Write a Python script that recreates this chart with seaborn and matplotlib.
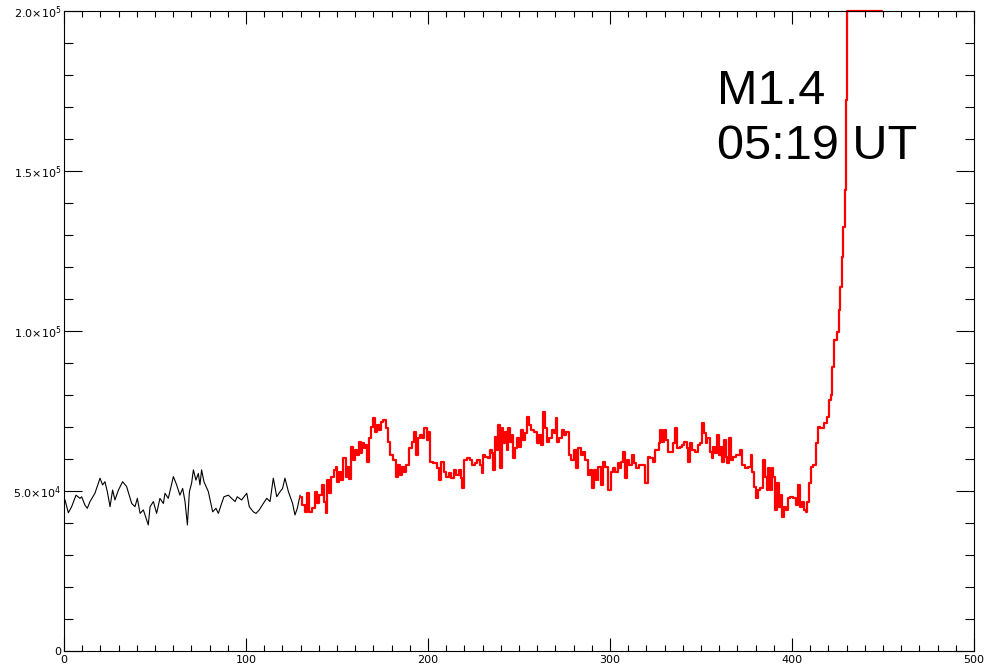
import matplotlib
matplotlib.use("Agg")
import matplotlib.pyplot as plt
import seaborn as sns
import pandas as pd
from matplotlib.ticker import MultipleLocator, FixedLocator, FixedFormatter

# Pre-flare light curve (black) and flare-window light curve (red), counts in thousands
black_x = [0.55, 2.4, 4.2, 6.6, 8.8, 9.7, 11.5, 12.8, 14.3, 17.0, 19.8, 21.2, 22.5, 23.8,
           25.3, 26.7, 28.0, 29.9, 32.2, 34.4, 37.2, 39.0, 40.3, 41.8, 43.6, 46.3, 47.3,
           49.1, 50.9, 52.7, 54.6, 55.5, 57.3, 60.1, 61.9, 63.7, 65.2, 66.5, 67.8, 68.9,
           70.1, 71.1, 72.5, 73.8, 74.7, 75.6, 76.9, 79.3, 81.7, 83.5, 84.8, 86.6, 87.9,
           90.3, 92.1, 94.0, 95.2, 97.6, 100.4, 101.8, 104.0, 105.5, 107.3, 109.5, 111.4,
           113.2, 115.0, 116.9, 118.7, 120.1, 121.4, 123.3, 125.6, 126.9, 128.2, 129.7]
black_kcounts = [47.2, 43.2, 45.1, 48.7, 47.7, 48.2, 45.6, 44.6, 46.7, 49.3, 54.0, 51.9, 52.9,
                 49.8, 45.1, 50.3, 47.2, 50.3, 52.9, 51.4, 46.1, 45.1, 47.7, 43.0, 44.1, 39.4,
                 45.1, 46.7, 43.0, 47.7, 46.1, 49.3, 47.7, 54.5, 51.9, 48.7, 50.8, 46.7, 39.4,
                 49.8, 52.4, 56.6, 53.4, 55.5, 51.9, 56.6, 52.9, 49.8, 43.5, 44.6, 43.0, 46.1,
                 48.2, 48.7, 47.7, 46.7, 48.2, 47.2, 49.3, 45.1, 43.5, 43.0, 44.1, 46.1, 47.7,
                 46.7, 54.0, 48.2, 49.8, 50.8, 54.0, 49.8, 46.1, 42.5, 44.6, 48.7]

red_x = [129.6, 131.5, 133.3, 134.2, 135.1, 137.0, 138.3, 139.7, 140.6, 142.5, 143.4, 144.3,
         145.2, 146.1, 147.4, 148.9, 149.8, 150.7, 151.6, 152.5, 154.4, 155.3, 156.2, 157.1,
         158.4, 159.5, 160.8, 161.7, 162.6, 163.5, 164.4, 165.4, 166.3, 167.2, 168.1, 169.4,
         170.3, 171.2, 172.3, 173.6, 174.9, 176.0, 177.3, 178.2, 180.0, 181.5, 182.8, 183.7,
         185.1, 185.9, 187.3, 188.8, 190.1, 191.9, 192.8, 193.7, 195.0, 196.1, 197.4, 198.7,
         199.8, 200.7, 202.0, 203.8, 205.7, 206.6, 207.9, 209.3, 210.8, 212.1, 213.3, 214.8,
         216.1, 217.6, 218.5, 219.4, 220.3, 222.2, 224.0, 224.9, 226.5, 227.7, 229.0, 230.1,
         230.8, 232.3, 233.7, 234.6, 235.5, 236.3, 237.2, 238.1, 239.2, 239.9, 240.9, 241.8,
         242.7, 243.6, 244.5, 245.4, 246.4, 247.3, 248.4, 249.7, 250.6, 251.5, 252.8, 253.9,
         255.0, 256.1, 257.5, 259.4, 260.6, 261.6, 262.7, 263.8, 264.9, 266.1, 267.4, 268.5,
         269.8, 270.7, 271.6, 272.9, 274.0, 275.3, 276.6, 278.0, 279.5, 280.8, 282.1, 283.2,
         284.4, 285.7, 287.2, 288.7, 289.6, 290.5, 291.8, 293.1, 294.2, 295.4, 296.7, 298.2,
         299.7, 300.9, 302.2, 303.7, 304.6, 305.5, 306.8, 307.9, 308.8, 310.0, 311.0, 312.8,
         313.7, 315.2, 316.4, 318.8, 320.1, 321.4, 322.9, 324.3, 325.6, 326.5, 327.4, 328.0,
         329.3, 330.2, 331.1, 332.4, 333.8, 335.3, 336.6, 337.5, 339.0, 340.3, 341.5, 342.6,
         343.4, 344.5, 345.7, 347.6, 348.9, 350.3, 351.2, 352.2, 353.1, 354.0, 355.5, 356.2,
         357.3, 358.6, 359.5, 360.4, 361.3, 362.2, 363.1, 364.1, 365.0, 365.9, 366.8, 368.3,
         370.5, 371.9, 373.2, 375.0, 376.9, 377.8, 378.7, 379.6, 380.5, 381.8, 383.3, 384.8,
         385.5, 386.6, 387.3, 388.4, 389.3, 390.3, 391.5, 392.4, 393.4, 394.3, 395.2, 396.1,
         397.4, 398.3, 399.8, 401.6, 403.1, 403.8, 404.7, 405.8, 407.1, 408.0, 408.9, 409.9,
         410.8, 412.6, 413.6, 414.5, 416.3, 418.7, 420.0, 420.9, 421.8, 422.7, 423.6, 425.5,
         426.0, 426.7, 427.8, 428.6, 429.1, 429.7, 430.4, 449.3]
red_kcounts = [48.2, 45.6, 43.5, 49.3, 43.5, 44.6, 49.8, 46.1, 48.7, 51.9, 46.7, 43.0,
               53.4, 49.3, 54.5, 56.6, 57.6, 52.9, 56.0, 53.4, 60.2, 54.5, 57.6, 53.9,
               63.9, 59.7, 62.8, 61.3, 65.4, 61.8, 64.9, 63.3, 64.4, 59.2, 66.5, 70.1,
               72.7, 68.5, 70.6, 69.1, 71.7, 72.2, 69.6, 65.4, 61.3, 59.7, 54.5, 58.1,
               55.0, 57.6, 56.0, 58.1, 63.3, 65.4, 68.5, 61.3, 66.5, 67.5, 66.5, 69.6,
               65.9, 68.5, 59.2, 58.6, 57.1, 53.4, 59.2, 56.0, 54.5, 55.5, 54.0, 56.6,
               55.0, 56.6, 54.0, 50.8, 59.7, 60.2, 59.7, 58.1, 58.6, 59.7, 58.1, 55.5,
               61.3, 60.7, 60.2, 62.8, 61.8, 56.6, 67.0, 62.8, 70.6, 57.1, 69.6, 64.9,
               68.5, 62.8, 69.6, 65.4, 67.5, 60.2, 63.3, 66.5, 63.9, 69.1, 65.9, 68.0,
               73.2, 70.6, 69.1, 68.5, 64.9, 67.5, 64.4, 74.8, 69.6, 65.4, 66.5, 69.1,
               68.0, 72.7, 65.4, 66.5, 69.1, 67.5, 68.5, 61.3, 59.7, 62.8, 57.1, 63.3,
               61.3, 62.3, 59.7, 55.0, 56.6, 50.8, 56.6, 53.4, 57.6, 51.9, 59.2, 57.6,
               50.3, 56.0, 57.1, 56.0, 58.6, 57.1, 59.2, 62.3, 54.0, 59.7, 58.1, 61.3,
               58.6, 57.1, 58.1, 58.1, 52.4, 60.7, 60.2, 59.2, 62.8, 62.8, 64.9, 69.1,
               65.4, 69.1, 65.9, 62.3, 62.3, 64.9, 69.6, 63.3, 63.9, 64.4, 65.4, 63.3,
               59.2, 64.9, 62.8, 62.3, 64.4, 64.9, 71.1, 68.0, 64.9, 66.5, 62.3, 60.2,
               63.9, 61.8, 67.5, 61.3, 63.9, 59.2, 65.9, 60.7, 58.6, 66.5, 59.7, 60.7,
               61.3, 62.8, 58.1, 57.1, 57.6, 61.3, 56.0, 51.4, 47.7, 50.3, 50.8, 59.7,
               54.5, 50.3, 57.1, 50.3, 57.1, 54.5, 44.1, 52.4, 45.1, 48.7, 42.0, 45.1,
               44.1, 47.7, 48.2, 47.7, 45.6, 51.9, 45.1, 46.7, 44.0, 43.5, 46.7, 52.4,
               57.6, 58.1, 64.9, 70.1, 69.6, 71.1, 73.2, 78.4, 80.0, 88.8, 97.1, 99.8,
               106.5, 113.8, 123.2, 132.6, 144.0, 172.2, 200.0, 200.0]

y_ticks = [0, 50000, 100000, 150000, 200000]
y_tick_labels = ["0", "5.0×10$^4$", "1.0×10$^5$", "1.5×10$^5$", "2.0×10$^5$"]
x_ticks = [0, 100, 200, 300, 400, 500]
annotation = "M1.4\n05:19 UT"

pre = pd.DataFrame({"x": black_x, "counts": [v * 1000 for v in black_kcounts]})
flare = pd.DataFrame({"x": red_x, "counts": [v * 1000 for v in red_kcounts]})

sns.set_style("ticks")
plt.rcParams["font.family"] = ["DejaVu Sans"]

fig = plt.figure(figsize=(9.96, 6.71), dpi=100)
ax = fig.add_axes([64 / 996, 1 - 651 / 671, 910 / 996, 640 / 671])

sns.lineplot(data=pre, x="x", y="counts", ax=ax, color="black", lw=0.8,
             estimator=None, sort=False)
sns.lineplot(data=flare, x="x", y="counts", ax=ax, color="red", lw=1.6,
             estimator=None, sort=False, drawstyle="steps-mid", clip_on=False)

ax.set_xlim(0, 500)
ax.set_ylim(0, 200000)
ax.set_xlabel("")
ax.set_ylabel("")

ax.xaxis.set_major_locator(FixedLocator(x_ticks))
ax.xaxis.set_minor_locator(MultipleLocator(10))
ax.yaxis.set_major_locator(FixedLocator(y_ticks))
ax.yaxis.set_major_formatter(FixedFormatter(y_tick_labels))
ax.yaxis.set_minor_locator(MultipleLocator(10000))

for side in ["top", "right", "bottom", "left"]:
    ax.spines[side].set_visible(True)
    ax.spines[side].set_color("black")
    ax.spines[side].set_linewidth(0.8)

ax.tick_params(axis="both", which="both", direction="in", top=True, right=True,
               colors="black", width=0.8, labelsize=8, pad=3)
ax.tick_params(axis="x", which="major", length=9.5)
ax.tick_params(axis="x", which="minor", length=4.5)
ax.tick_params(axis="y", which="major", length=13)
ax.tick_params(axis="y", which="minor", length=6.5)
ax.tick_params(axis="y", which="both", pad=2)

ax.text(359, 182000, annotation, fontsize=35, family=["Liberation Sans", "DejaVu Sans"],
        ha="left", va="top", linespacing=1.3, color="black")

fig.savefig("out.png", dpi=100, facecolor="white")
